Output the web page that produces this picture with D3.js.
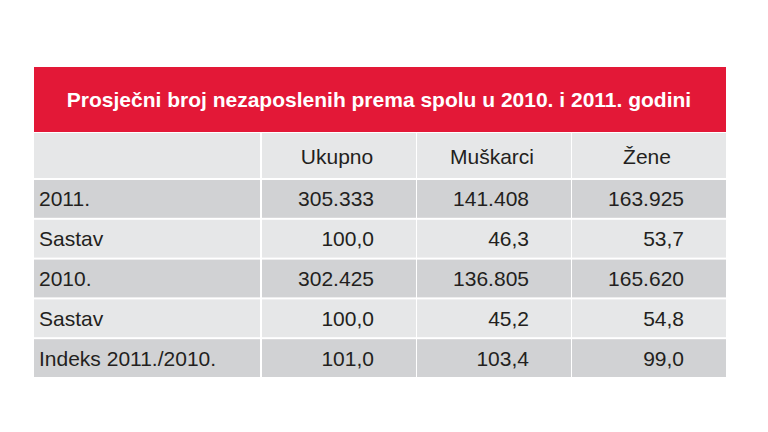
<!DOCTYPE html>
<html>
<head>
<meta charset="utf-8">
<script src="https://cdn.jsdelivr.net/npm/d3@7"></script>
<style>
  body { margin: 0; background: #fff; }
  svg { display: block; font-family: "Liberation Sans", Arial, sans-serif; }
</style>
</head>
<body>
<div id="chart"></div>
<script>
// table data
const title = 'Prosječni broj nezaposlenih prema spolu u 2010. i 2011. godini';
const columns = ['Ukupno', 'Muškarci', 'Žene'];
const rowLabels = ['2011.', 'Sastav', '2010.', 'Sastav', 'Indeks 2011./2010.'];
const rowKinds = ['count', 'share', 'count', 'share', 'share'];
const ukupno = [305333, 100.0, 302425, 100.0, 101.0];
const muskarci = [141408, 46.3, 136805, 45.2, 103.4];
const zene = [163925, 53.7, 165620, 54.8, 99.0];

const series = [ukupno, muskarci, zene];

const W = 768, H = 432;
const left = 34, right = 726;
const firstColW = 227;
const titleTop = 67, titleH = 65;
const headTop = 133, headH = 46;
const bodyTop = 179, bodyBottom = 378;

const hr = d3.formatLocale({decimal: ',', thousands: '.', grouping: [3], currency: ['', '']});
const fmt = {count: hr.format(',d'), share: hr.format('.1f')};

const svg = d3.select('#chart').append('svg').attr('width', W).attr('height', H);

// scales
const colX = d3.scaleBand().domain(columns).range([left + firstColW, right]).paddingInner(0);
const rowY = d3.scaleBand().domain(d3.range(rowLabels.length)).range([bodyTop, bodyBottom]);

const gap = 1;
const light = '#e6e7e8', dark = '#d1d2d4', ink = '#231f20';
const fs = '21px';

// title band
svg.append('rect').attr('x', left).attr('y', titleTop).attr('width', right - left).attr('height', titleH)
  .attr('fill', '#e31837');
svg.append('text').attr('x', (left + right) / 2 - 1).attr('y', titleTop + titleH / 2 + 7)
  .attr('text-anchor', 'middle').attr('fill', '#fff').attr('font-weight', 'bold')
  .attr('font-size', fs).text(title);

// header row
const headG = svg.append('g');
headG.append('rect').attr('x', left).attr('y', headTop).attr('width', firstColW - gap).attr('height', headH - gap)
  .attr('fill', light);
headG.selectAll('rect.col').data(columns).join('rect').attr('class', 'col')
  .attr('x', d => colX(d) + gap).attr('y', headTop)
  .attr('width', colX.bandwidth() - gap).attr('height', headH - gap)
  .attr('fill', light);
headG.selectAll('text').data(columns).join('text')
  .attr('x', d => colX(d) + colX.bandwidth() - 79)
  .attr('y', headTop + headH / 2 + 7.5)
  .attr('text-anchor', 'middle').attr('font-size', fs).attr('fill', ink)
  .text(d => d);

// body rows
const rows = svg.append('g').selectAll('g').data(rowLabels).join('g')
  .attr('transform', (d, i) => `translate(0,${rowY(i)})`);

const rh = rowY.bandwidth();
const fillOf = i => (i % 2 === 0 ? dark : light);

rows.append('rect').attr('x', left).attr('y', gap).attr('width', firstColW - gap).attr('height', rh - gap * 2)
  .attr('fill', (d, i) => fillOf(i));
rows.append('text').attr('x', left + 5).attr('y', rh / 2 + 7.5)
  .attr('font-size', fs).attr('fill', ink).text(d => d);

rows.each(function (label, i) {
  const g = d3.select(this);
  g.selectAll('rect.cell').data(columns).join('rect').attr('class', 'cell')
    .attr('x', c => colX(c) + gap).attr('y', gap)
    .attr('width', colX.bandwidth() - gap).attr('height', rh - gap * 2)
    .attr('fill', fillOf(i));
  g.selectAll('text.val').data(columns).join('text').attr('class', 'val')
    .attr('x', c => colX(c) + colX.bandwidth() - 42)
    .attr('y', rh / 2 + 7.5)
    .attr('text-anchor', 'end').attr('font-size', fs).attr('fill', ink)
    .text((c, j) => fmt[rowKinds[i]](series[j][i]));
});
</script>
</body>
</html>
